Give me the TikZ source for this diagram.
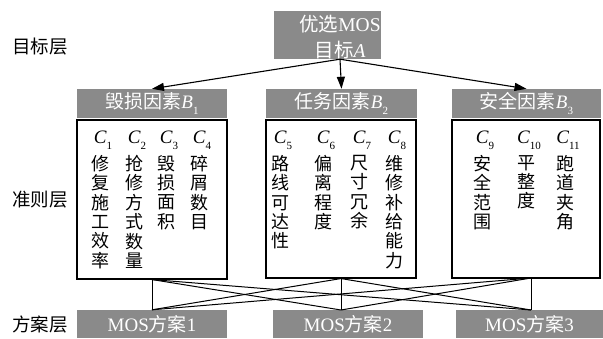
\documentclass[tikz,border=0pt]{standalone}
\usepackage{fontspec}
\setmainfont{Liberation Serif}
\newfontfamily\cjk{Noto Sans CJK SC}
\usetikzlibrary{arrows.meta}
\definecolor{boxgray}{RGB}{138,138,138}
\newcommand{\lsub}[1]{\raisebox{-0.32em}{\fontsize{11}{11}\selectfont #1}}
\newcommand{\cl}[1]{\textit{C}\lsub{#1}}
\tikzset{
  graybox/.style={fill=boxgray, text=white, inner sep=0pt, font=\fontsize{19}{19}\selectfont},
  bodybox/.style={draw=black, line width=1.1pt, inner sep=0pt},
  sidelab/.style={font=\cjk\fontsize{18.5}{18.5}\selectfont, inner sep=0pt},
  clab/.style={font=\fontsize{19}{19}\selectfont, inner sep=0pt},
  vcol/.style={font=\cjk\fontsize{18}{19.4}\selectfont, align=center, anchor=north, inner sep=0pt},
  arr/.style={-{Triangle[length=12pt,width=8pt]}, line width=1.1pt},
  conn/.style={line width=1pt}
}
\begin{document}
\begin{tikzpicture}[x=1pt,y=-1pt]
\useasboundingbox (0,0) rectangle (603,338);
% left labels
\node[sidelab] (L1) at (40,46.5) {目标层};
\node[sidelab] (L2) at (40,200) {准则层};
\node[sidelab] (L3) at (40,324) {方案层};
% top
\node[graybox, minimum width=107pt, minimum height=48pt] (A) at (327.5,35) {};
\node[font=\fontsize{19.5}{26}\selectfont, text=white, align=center, inner sep=0pt] (At) at (340,37) {{\cjk 优选}MOS\\{\cjk 目标}\textit{A}};
% headers
\node[graybox, minimum width=150pt, minimum height=29pt] (B1) at (152,103.5) {{\cjk 毁损因素}\textit{B}\lsub{1}};
\node[graybox, minimum width=151pt, minimum height=29pt] (B2) at (341.5,103.5) {{\cjk 任务因素}\textit{B}\lsub{2}};
\node[graybox, minimum width=149pt, minimum height=29pt] (B3) at (526.5,103.5) {{\cjk 安全因素}\textit{B}\lsub{3}};
% arrows
\draw[arr] (At |- A.south) -- (B1.north);
\draw[arr] (At |- A.south) -- (B2.north);
\draw[arr] (At |- A.south) -- (B3.north);
% bodies
\node[bodybox, minimum width=150pt, minimum height=159pt] (D1) at (152,199.5) {};
\node[bodybox, minimum width=150pt, minimum height=158pt] (D2) at (341,199) {};
\node[bodybox, minimum width=148pt, minimum height=158pt] (D3) at (526,199) {};
% C labels
\node[clab] (c1) at (103,140) {\cl{1}};
\node[clab] (c2) at (137,140) {\cl{2}};
\node[clab] (c3) at (169,140) {\cl{3}};
\node[clab] (c4) at (202,140) {\cl{4}};
\node[clab] (c5) at (283,140) {\cl{5}};
\node[clab] (c6) at (326,140) {\cl{6}};
\node[clab] (c7) at (362,140) {\cl{7}};
\node[clab] (c8) at (397,140) {\cl{8}};
\node[clab] (c9) at (485,140) {\cl{9}};
\node[clab] (c10) at (529,140) {\cl{10}};
\node[clab] (c11) at (568,140) {\cl{11}};
% vertical texts
\node[vcol] (v1) at (100,155) {修\\复\\施\\工\\效\\率};
\node[vcol] (v2) at (134,155) {抢\\修\\方\\式\\数\\量};
\node[vcol] (v3) at (166,155) {毁\\损\\面\\积};
\node[vcol] (v4) at (199,155) {碎\\屑\\数\\目};
\node[vcol] (v5) at (280,155) {路\\线\\可\\达\\性};
\node[vcol] (v6) at (323,155) {偏\\离\\程\\度};
\node[vcol] (v7) at (359,155) {尺\\寸\\冗\\余};
\node[vcol] (v8) at (394,155) {维\\修\\补\\给\\能\\力};
\node[vcol] (v9) at (482,155) {安\\全\\范\\围};
\node[vcol] (v10) at (526,155) {平\\整\\度};
\node[vcol] (v11) at (565,155) {跑\\道\\夹\\角};
% bottom boxes
\node[graybox, minimum width=150pt, minimum height=28pt] (M1) at (152,324) {MOS{\cjk 方案}1};
\node[graybox, minimum width=150pt, minimum height=28pt] (M2) at (348,324) {MOS{\cjk 方案}2};
\node[graybox, minimum width=147pt, minimum height=28pt] (M3) at (529.5,324) {MOS{\cjk 方案}3};
% connection points
\coordinate (t1) at (D1.south);
\coordinate (t2) at (D2.south);
\coordinate (t3) at (531,278);
\coordinate (b1) at (M1.north);
\coordinate (b2) at (341,310);
\coordinate (b3) at (531,310);
\foreach \t in {t1,t2,t3}{
  \foreach \b in {b1,b2,b3}{
    \draw[conn] (\t) -- (\b);
  }
}
\end{tikzpicture}
\end{document}
